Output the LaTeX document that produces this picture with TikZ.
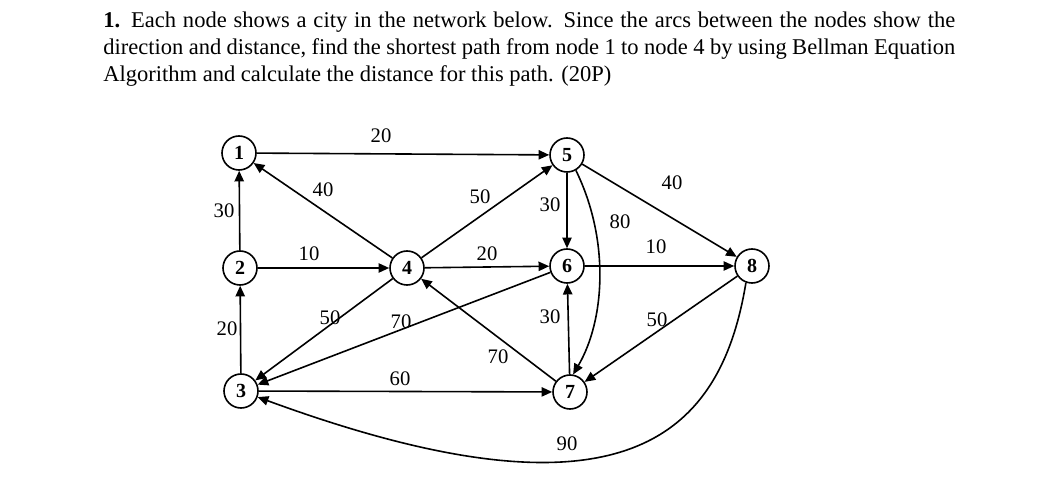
\documentclass[tikz,border=0pt]{standalone}
\usepackage{fontspec}
\setmainfont{Liberation Serif}
\usetikzlibrary{arrows.meta}
\begin{document}
\begin{tikzpicture}[x=0.75pt,y=-0.75pt,
  city/.style={circle,draw,line width=1.2pt,minimum size=25.5pt,inner sep=0pt,font=\fontsize{15}{15}\selectfont\bfseries},
  arc/.style={line width=1.2pt,-{Triangle[length=8pt,width=7pt]}},
  lab/.style={font=\fontsize{15.5}{15.5}\selectfont,inner sep=1pt}]
\useasboundingbox (0,0) rectangle (1049,491);
\node[anchor=north west,text width=639pt,align=justify,inner sep=0pt,font=\fontsize{16.9}{20.2}\selectfont] (q) at (103,12)
{\textbf{1.} Each node shows a city in the network below. Since the arcs between the nodes show the direction and distance, find the shortest path from node 1 to node 4 by using Bellman Equation Algorithm and calculate the distance for this path. (20P)};
\node[city] (n1) at (239,153) {1};
\node[city] (n2) at (240,268) {2};
\node[city] (n3) at (241,391) {3};
\node[city] (n4) at (407,268) {4};
\node[city] (n5) at (567,155) {5};
\node[city] (n6) at (567,266) {6};
\node[city] (n7) at (570,392) {7};
\node[city] (n8) at (752,266) {8};
\draw[arc] (n1) -- (n5);
\draw[arc] (n4) -- (n1);
\draw[arc] (n2) -- (n1);
\draw[arc] (n2) -- (n4);
\draw[arc] (n3) -- (n2);
\draw[arc] (n4) -- (n3);
\draw[arc] (n4) -- (n5);
\draw[arc] (n4) -- (n6);
\draw[arc] (n5) -- (n6);
\draw[arc] (n5) -- (n8);
\draw[arc] (n5.-60) .. controls (610,240) and (605,320) .. (n7.80);
\draw[arc] (n6) -- (n8);
\draw[arc] (n6) -- (n3);
\draw[arc] (n7) -- (n4);
\draw[arc] (n7) -- (n6);
\draw[arc] (n3) -- (n7);
\draw[arc] (n8) -- (n7);
\draw[arc] (n8.-110) .. controls (720,440) and (620,530) .. (n3.-20);
\node[lab] (l20a) at (381,136) {20};
\node[lab] (l40a) at (323,190) {40};
\node[lab] (l30a) at (224,211) {30};
\node[lab] (l10a) at (309,254) {10};
\node[lab] (l20b) at (227,329) {20};
\node[lab] (l50a) at (330,318) {50};
\node[lab] (l70a) at (401,322) {70};
\node[lab] (l50b) at (480,197) {50};
\node[lab] (l20c) at (487,254) {20};
\node[lab] (l30b) at (550,205) {30};
\node[lab] (l80) at (620,222) {80};
\node[lab] (l40b) at (672,183) {40};
\node[lab] (l10b) at (656,247) {10};
\node[lab] (l30c) at (550,317) {30};
\node[lab] (l50c) at (657,320) {50};
\node[lab] (l70b) at (498,357) {70};
\node[lab] (l60) at (400,379) {60};
\node[lab] (l90) at (567,444) {90};
\end{tikzpicture}
\end{document}
